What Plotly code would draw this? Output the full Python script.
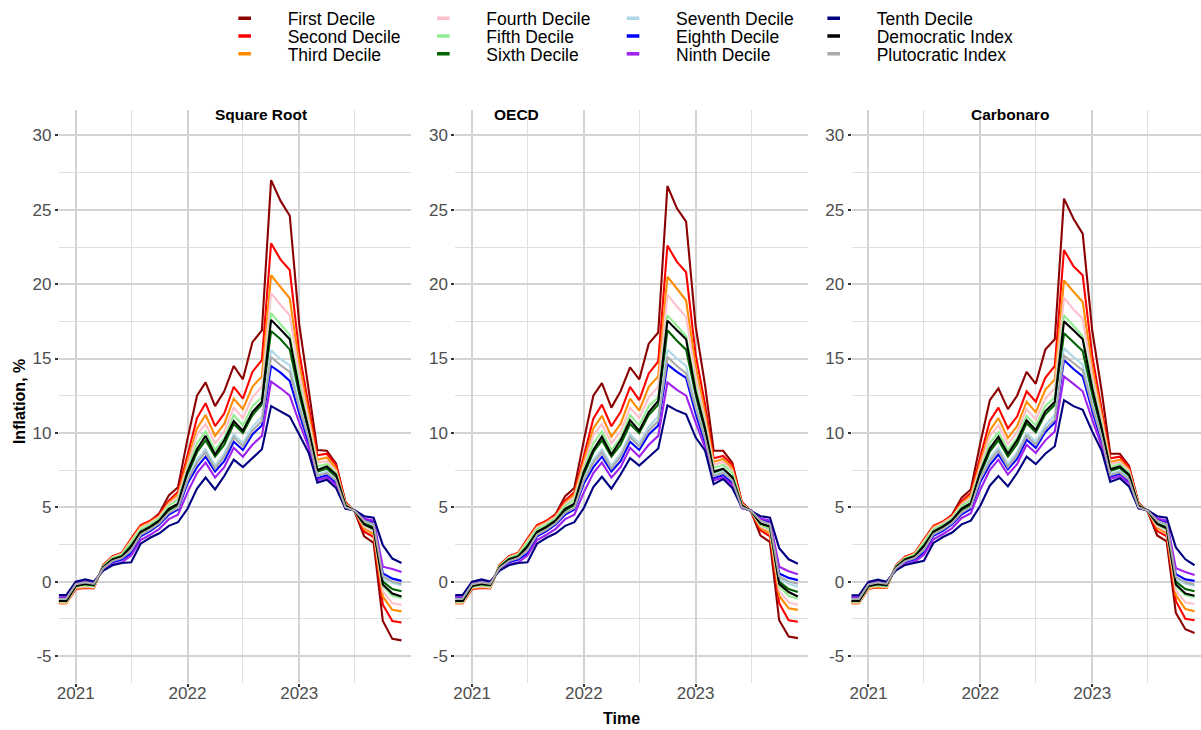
import pandas as pd
import plotly.graph_objects as go

# ---- monthly observation dates (Nov 2020 .. Dec 2023) ----
months = pd.date_range("2020-11-01", "2023-12-01", freq="MS").strftime("%Y-%m-%d").tolist()

series_names = ["First Decile", "Second Decile", "Third Decile", "Fourth Decile",
                "Fifth Decile", "Sixth Decile", "Seventh Decile", "Eighth Decile",
                "Ninth Decile", "Tenth Decile", "Democratic Index", "Plutocratic Index"]
series_colors = ["#8B0000", "#FF0000", "#FF8C00", "#FFC0CB", "#90EE90", "#006400",
                 "#ADD8E6", "#0000FF", "#A020F0", "#000080", "#000000", "#A9A9A9"]
panel_titles = ["Square Root", "OECD", "Carbonaro"]

# ---- Square Root equivalence scale ----
sqrt_d1 = [-1.40, -1.40, -0.45, -0.35, -0.40, 1.10, 1.70, 1.90, 2.85, 3.75, 4.05, 4.60, 5.80, 6.35, 9.60, 12.50, 13.40, 11.80, 12.80, 14.50, 13.60, 16.10, 16.90, 27.00, 25.60, 24.60, 17.30, 12.80, 8.85, 8.80, 7.95, 5.35, 4.70, 3.05, 2.60, -2.65, -3.85, -3.95]
sqrt_d2 = [-1.45, -1.45, -0.50, -0.42, -0.45, 1.12, 1.70, 1.95, 2.90, 3.80, 4.10, 4.50, 5.45, 6.05, 8.50, 11.00, 12.00, 10.45, 11.30, 13.10, 12.30, 14.10, 14.90, 22.75, 21.65, 20.95, 15.40, 11.80, 8.50, 8.60, 7.85, 5.30, 4.72, 3.35, 3.00, -1.55, -2.65, -2.75]
sqrt_d3 = [-1.45, -1.45, -0.45, -0.38, -0.42, 1.08, 1.65, 1.90, 2.80, 3.70, 4.00, 4.40, 5.30, 5.85, 8.10, 10.30, 11.20, 9.80, 10.60, 12.30, 11.60, 13.10, 13.80, 20.60, 19.80, 19.05, 14.60, 11.30, 8.20, 8.35, 7.60, 5.25, 4.74, 3.55, 3.20, -1.00, -1.90, -2.00]
sqrt_d4 = [-1.40, -1.40, -0.40, -0.32, -0.38, 1.05, 1.62, 1.85, 2.72, 3.62, 3.95, 4.35, 5.20, 5.70, 7.80, 9.90, 10.60, 9.30, 10.10, 11.70, 11.00, 12.40, 13.10, 19.40, 18.60, 17.90, 14.00, 10.90, 8.00, 8.10, 7.45, 5.20, 4.75, 3.70, 3.35, -0.65, -1.45, -1.55]
sqrt_d5 = [-1.35, -1.35, -0.35, -0.25, -0.32, 1.02, 1.58, 1.80, 2.62, 3.52, 3.85, 4.25, 5.10, 5.50, 7.55, 9.30, 10.10, 8.85, 9.65, 11.20, 10.50, 11.80, 12.40, 18.05, 17.30, 16.60, 13.30, 10.50, 7.75, 7.90, 7.30, 5.15, 4.75, 3.80, 3.50, -0.30, -0.95, -1.10]
sqrt_d6 = [-1.30, -1.30, -0.28, -0.18, -0.25, 0.98, 1.50, 1.72, 2.42, 3.30, 3.65, 4.05, 4.80, 5.15, 7.20, 8.70, 9.50, 8.40, 9.20, 10.60, 10.00, 11.20, 11.90, 16.85, 16.30, 15.60, 12.60, 10.00, 7.40, 7.60, 7.05, 5.10, 4.76, 3.95, 3.65, 0.00, -0.50, -0.65]
sqrt_d7 = [-1.20, -1.20, -0.22, -0.10, -0.18, 0.92, 1.42, 1.62, 2.20, 3.10, 3.45, 3.85, 4.55, 4.90, 6.90, 8.20, 8.90, 7.80, 8.60, 9.90, 9.30, 10.40, 11.10, 15.55, 14.95, 14.55, 11.90, 9.70, 7.20, 7.40, 6.90, 5.05, 4.77, 4.05, 3.80, 0.20, -0.10, -0.25]
sqrt_d8 = [-1.05, -1.05, -0.10, 0.02, -0.08, 0.85, 1.30, 1.48, 1.90, 3.05, 3.40, 3.85, 4.50, 4.85, 6.60, 7.70, 8.40, 7.40, 8.10, 9.40, 8.85, 9.90, 10.50, 14.50, 14.05, 13.50, 11.30, 9.30, 6.95, 7.15, 6.65, 4.95, 4.78, 4.20, 4.00, 0.55, 0.20, 0.05]
sqrt_d9 = [-1.00, -1.00, -0.05, 0.08, -0.03, 0.80, 1.15, 1.30, 1.75, 2.80, 3.15, 3.55, 4.20, 4.50, 6.00, 7.30, 8.00, 7.00, 7.70, 9.00, 8.40, 9.20, 9.80, 13.45, 13.00, 12.50, 10.70, 9.00, 6.80, 7.00, 6.50, 4.95, 4.79, 4.25, 4.10, 1.00, 0.85, 0.65]
sqrt_d10 = [-0.90, -0.90, 0.00, 0.15, 0.00, 0.75, 1.10, 1.25, 1.30, 2.55, 2.95, 3.25, 3.75, 4.00, 4.90, 6.25, 7.00, 6.20, 7.10, 8.20, 7.70, 8.30, 8.90, 11.80, 11.45, 11.10, 9.90, 8.65, 6.65, 6.85, 6.30, 4.90, 4.80, 4.40, 4.30, 2.45, 1.55, 1.25]
sqrt_dem = [-1.30, -1.30, -0.30, -0.15, -0.22, 0.95, 1.48, 1.68, 2.35, 3.35, 3.70, 4.12, 4.90, 5.25, 7.40, 8.90, 9.80, 8.55, 9.50, 10.80, 10.15, 11.40, 12.10, 17.60, 16.95, 16.30, 12.90, 10.20, 7.50, 7.75, 7.20, 5.10, 4.76, 3.85, 3.55, -0.20, -0.80, -1.00]
sqrt_plu = [-1.15, -1.15, -0.18, -0.05, -0.15, 0.90, 1.38, 1.58, 2.10, 3.15, 3.50, 3.92, 4.62, 4.95, 6.80, 8.00, 8.70, 7.60, 8.40, 9.70, 9.10, 10.15, 10.80, 15.10, 14.55, 14.10, 11.70, 9.60, 7.10, 7.30, 6.80, 5.00, 4.77, 4.10, 3.85, 0.35, 0.00, -0.15]

# ---- OECD equivalence scale ----
oecd_d1 = [-1.40, -1.40, -0.45, -0.35, -0.40, 1.10, 1.70, 1.90, 2.85, 3.75, 4.05, 4.55, 5.75, 6.30, 9.50, 12.50, 13.35, 11.70, 12.80, 14.40, 13.60, 16.00, 16.75, 26.60, 25.10, 24.20, 17.20, 13.20, 8.80, 8.80, 8.00, 5.35, 4.72, 3.10, 2.65, -2.60, -3.70, -3.80]
oecd_d2 = [-1.45, -1.45, -0.50, -0.42, -0.45, 1.12, 1.70, 1.95, 2.90, 3.80, 4.10, 4.50, 5.45, 6.00, 8.45, 10.95, 11.90, 10.45, 11.40, 13.10, 12.20, 14.00, 14.80, 22.60, 21.50, 20.80, 15.30, 11.90, 8.30, 8.45, 7.85, 5.30, 4.72, 3.45, 3.05, -1.45, -2.60, -2.70]
oecd_d3 = [-1.45, -1.45, -0.45, -0.38, -0.42, 1.08, 1.65, 1.90, 2.80, 3.70, 4.00, 4.40, 5.30, 5.85, 8.10, 10.30, 11.15, 9.75, 10.60, 12.30, 11.50, 13.10, 13.80, 20.50, 19.70, 18.90, 14.50, 11.30, 8.05, 8.25, 7.60, 5.25, 4.74, 3.60, 3.25, -0.95, -1.80, -1.90]
oecd_d4 = [-1.40, -1.40, -0.40, -0.32, -0.38, 1.05, 1.62, 1.85, 2.72, 3.62, 3.95, 4.35, 5.20, 5.70, 7.80, 9.85, 10.60, 9.30, 10.10, 11.70, 11.00, 12.40, 13.10, 19.30, 18.50, 17.80, 13.90, 10.90, 7.85, 8.05, 7.45, 5.20, 4.75, 3.72, 3.40, -0.60, -1.40, -1.55]
oecd_d5 = [-1.35, -1.35, -0.35, -0.25, -0.32, 1.02, 1.58, 1.80, 2.62, 3.52, 3.85, 4.25, 5.10, 5.50, 7.55, 9.30, 10.10, 8.85, 9.65, 11.20, 10.50, 11.80, 12.40, 17.90, 17.20, 16.50, 13.20, 10.50, 7.65, 7.85, 7.30, 5.15, 4.75, 3.82, 3.52, -0.30, -0.95, -1.15]
oecd_d6 = [-1.30, -1.30, -0.28, -0.18, -0.25, 0.98, 1.50, 1.72, 2.42, 3.30, 3.65, 4.05, 4.80, 5.15, 7.20, 8.70, 9.50, 8.40, 9.20, 10.60, 10.00, 11.20, 11.90, 16.90, 16.20, 15.60, 12.60, 10.00, 7.35, 7.55, 7.05, 5.10, 4.76, 3.95, 3.68, 0.00, -0.50, -0.70]
oecd_d7 = [-1.20, -1.20, -0.22, -0.10, -0.18, 0.92, 1.42, 1.62, 2.20, 3.10, 3.45, 3.85, 4.55, 4.90, 6.90, 8.20, 8.90, 7.80, 8.60, 9.90, 9.30, 10.40, 11.10, 15.60, 15.00, 14.50, 11.90, 9.70, 7.15, 7.40, 6.90, 5.05, 4.77, 4.05, 3.80, 0.20, -0.15, -0.35]
oecd_d8 = [-1.05, -1.05, -0.10, 0.02, -0.08, 0.85, 1.30, 1.48, 1.90, 3.05, 3.40, 3.85, 4.50, 4.85, 6.60, 7.70, 8.40, 7.40, 8.10, 9.40, 8.85, 9.90, 10.50, 14.60, 14.10, 13.70, 11.30, 9.30, 6.95, 7.15, 6.65, 4.95, 4.78, 4.20, 4.00, 0.55, 0.25, 0.10]
oecd_d9 = [-1.00, -1.00, -0.05, 0.08, -0.03, 0.80, 1.15, 1.30, 1.75, 2.80, 3.15, 3.55, 4.20, 4.50, 6.00, 7.30, 8.00, 7.00, 7.70, 9.00, 8.40, 9.20, 9.80, 13.40, 12.90, 12.50, 10.70, 9.00, 6.80, 7.00, 6.50, 4.95, 4.79, 4.25, 4.10, 1.00, 0.70, 0.50]
oecd_d10 = [-0.90, -0.90, 0.00, 0.15, 0.00, 0.75, 1.10, 1.25, 1.30, 2.55, 2.95, 3.25, 3.75, 4.00, 4.95, 6.35, 7.05, 6.25, 7.20, 8.30, 7.80, 8.40, 8.95, 11.85, 11.50, 11.25, 9.70, 8.80, 6.55, 6.90, 6.30, 5.00, 4.75, 4.40, 4.30, 2.25, 1.50, 1.20]
oecd_dem = [-1.30, -1.30, -0.30, -0.15, -0.22, 0.95, 1.48, 1.68, 2.35, 3.35, 3.70, 4.12, 4.90, 5.25, 7.40, 8.85, 9.75, 8.55, 9.50, 10.85, 10.15, 11.40, 12.15, 17.55, 16.90, 16.30, 12.80, 10.30, 7.40, 7.60, 7.00, 5.10, 4.76, 3.90, 3.70, -0.15, -0.70, -1.00]
oecd_plu = [-1.15, -1.15, -0.18, -0.05, -0.15, 0.90, 1.38, 1.58, 2.10, 3.15, 3.50, 3.92, 4.62, 4.95, 6.80, 8.00, 8.70, 7.60, 8.40, 9.70, 9.10, 10.15, 10.80, 15.10, 14.50, 14.00, 11.70, 9.60, 7.10, 7.30, 6.80, 5.00, 4.77, 4.10, 3.85, 0.35, 0.00, -0.15]

# ---- Carbonaro equivalence scale ----
carb_d1 = [-1.40, -1.40, -0.42, -0.32, -0.38, 1.08, 1.68, 1.88, 2.80, 3.70, 4.00, 4.50, 5.65, 6.20, 9.30, 12.20, 13.00, 11.60, 12.50, 14.10, 13.30, 15.60, 16.30, 25.75, 24.40, 23.40, 16.90, 12.80, 8.60, 8.60, 7.80, 5.30, 4.70, 3.10, 2.70, -2.10, -3.20, -3.45]
carb_d2 = [-1.45, -1.45, -0.48, -0.40, -0.43, 1.10, 1.68, 1.92, 2.85, 3.75, 4.05, 4.45, 5.40, 5.95, 8.40, 10.80, 11.70, 10.30, 11.10, 12.80, 12.10, 13.70, 14.50, 22.30, 21.20, 20.60, 15.20, 11.70, 8.30, 8.40, 7.70, 5.28, 4.72, 3.40, 3.05, -1.30, -2.50, -2.60]
carb_d3 = [-1.45, -1.45, -0.44, -0.36, -0.40, 1.06, 1.63, 1.88, 2.76, 3.66, 3.97, 4.37, 5.25, 5.80, 8.00, 10.15, 11.00, 9.65, 10.45, 12.10, 11.40, 12.90, 13.60, 20.25, 19.50, 18.80, 14.40, 11.20, 8.05, 8.20, 7.55, 5.24, 4.74, 3.60, 3.25, -0.90, -1.85, -2.00]
carb_d4 = [-1.40, -1.40, -0.40, -0.30, -0.37, 1.04, 1.60, 1.84, 2.70, 3.60, 3.93, 4.33, 5.17, 5.65, 7.75, 9.80, 10.50, 9.25, 10.05, 11.60, 10.90, 12.30, 13.00, 19.10, 18.30, 17.70, 13.90, 10.90, 7.90, 8.05, 7.45, 5.20, 4.75, 3.72, 3.38, -0.60, -1.40, -1.50]
carb_d5 = [-1.35, -1.35, -0.35, -0.24, -0.31, 1.01, 1.57, 1.79, 2.61, 3.51, 3.84, 4.24, 5.08, 5.48, 7.50, 9.30, 10.05, 8.85, 9.65, 11.15, 10.50, 11.80, 12.40, 17.90, 17.20, 16.50, 13.30, 10.50, 7.70, 7.90, 7.30, 5.15, 4.75, 3.82, 3.50, -0.30, -0.90, -1.05]
carb_d6 = [-1.30, -1.30, -0.29, -0.18, -0.25, 0.98, 1.50, 1.72, 2.44, 3.32, 3.66, 4.06, 4.82, 5.17, 7.20, 8.75, 9.50, 8.40, 9.25, 10.65, 10.05, 11.25, 11.90, 16.70, 16.10, 15.50, 12.60, 10.05, 7.45, 7.65, 7.10, 5.10, 4.76, 3.95, 3.66, 0.00, -0.50, -0.65]
carb_d7 = [-1.22, -1.22, -0.23, -0.11, -0.19, 0.93, 1.43, 1.63, 2.25, 3.15, 3.48, 3.88, 4.60, 4.95, 6.95, 8.30, 9.00, 7.90, 8.70, 10.00, 9.40, 10.50, 11.20, 15.70, 15.10, 14.60, 12.00, 9.75, 7.25, 7.45, 6.95, 5.05, 4.77, 4.05, 3.80, 0.15, -0.15, -0.30]
carb_d8 = [-1.08, -1.08, -0.12, 0.00, -0.10, 0.86, 1.32, 1.50, 1.98, 3.08, 3.42, 3.86, 4.52, 4.88, 6.70, 7.85, 8.55, 7.55, 8.25, 9.55, 9.00, 10.05, 10.70, 14.90, 14.30, 13.80, 11.50, 9.40, 7.05, 7.25, 6.75, 4.98, 4.78, 4.18, 3.98, 0.50, 0.15, 0.05]
carb_d9 = [-1.02, -1.02, -0.07, 0.06, -0.04, 0.81, 1.18, 1.34, 1.80, 2.85, 3.20, 3.60, 4.28, 4.60, 6.20, 7.50, 8.20, 7.20, 7.90, 9.20, 8.65, 9.50, 10.10, 13.80, 13.30, 12.80, 10.90, 9.10, 6.90, 7.10, 6.60, 4.96, 4.79, 4.25, 4.10, 0.90, 0.65, 0.45]
carb_d10 = [-0.92, -0.92, -0.02, 0.13, -0.01, 0.76, 1.12, 1.28, 1.40, 2.60, 3.00, 3.30, 3.85, 4.10, 5.10, 6.45, 7.10, 6.40, 7.30, 8.40, 7.90, 8.60, 9.10, 12.20, 11.80, 11.55, 10.10, 8.80, 6.70, 6.95, 6.40, 4.92, 4.80, 4.40, 4.30, 2.30, 1.50, 1.10]
carb_dem = [-1.30, -1.30, -0.30, -0.16, -0.23, 0.96, 1.48, 1.69, 2.38, 3.36, 3.71, 4.13, 4.91, 5.27, 7.40, 8.95, 9.75, 8.60, 9.50, 10.85, 10.20, 11.45, 12.10, 17.50, 16.90, 16.30, 13.00, 10.30, 7.55, 7.75, 7.20, 5.10, 4.76, 3.88, 3.58, -0.20, -0.80, -0.95]
carb_plu = [-1.16, -1.16, -0.19, -0.06, -0.15, 0.90, 1.38, 1.58, 2.14, 3.18, 3.52, 3.94, 4.65, 5.00, 6.90, 8.10, 8.80, 7.70, 8.50, 9.80, 9.20, 10.25, 10.90, 15.20, 14.70, 14.20, 11.80, 9.65, 7.15, 7.35, 6.85, 5.00, 4.77, 4.10, 3.85, 0.30, -0.05, -0.20]

panel_series = [
    [sqrt_d1, sqrt_d2, sqrt_d3, sqrt_d4, sqrt_d5, sqrt_d6, sqrt_d7, sqrt_d8, sqrt_d9, sqrt_d10, sqrt_dem, sqrt_plu],
    [oecd_d1, oecd_d2, oecd_d3, oecd_d4, oecd_d5, oecd_d6, oecd_d7, oecd_d8, oecd_d9, oecd_d10, oecd_dem, oecd_plu],
    [carb_d1, carb_d2, carb_d3, carb_d4, carb_d5, carb_d6, carb_d7, carb_d8, carb_d9, carb_d10, carb_dem, carb_plu],
]

y_ticks = [-5, 0, 5, 10, 15, 20, 25, 30]
y_minor = [-2.5, 2.5, 7.5, 12.5, 17.5, 22.5, 27.5]
x_ticks = ["2021-01-01", "2022-01-01", "2023-01-01"]
x_ticklabels = ["2021", "2022", "2023"]
x_minor = ["2021-07-01", "2022-07-01", "2023-07-01", "2024-01-01"]

# ---- page geometry (pixels) ----
W, H = 1201, 730
panel_px = [(57, 410), (454, 807), (851, 1201)]
panel_top, panel_bottom = 102, 682
x_ranges = [["2020-11-07", "2024-01-02"], ["2020-11-07", "2024-01-02"], ["2020-11-07", "2023-12-22"]]
y_range = [-6.79, 31.73]

FONT = "Liberation Sans, Arial, sans-serif"
TICK_GREY = "#4D4D4D"
GRID_MAJOR = "#D3D3D3"
GRID_MINOR = "#E0E0E0"

fig = go.Figure()

for p in range(3):
    ax = "" if p == 0 else str(p + 1)
    for name, color, values in zip(series_names, series_colors, panel_series[p]):
        fig.add_trace(go.Scatter(
            x=months, y=values, mode="lines", name=name,
            line=dict(color=color, width=2.1),
            xaxis="x" + ax, yaxis="y" + ax, showlegend=False,
        ))

# legend keys: one small legend per entry, laid out in a 4 x 3 grid (column-major)
legend_col_text_x = [288, 487, 677, 878]
legend_row_y = [9.5, 27.5, 45.5]
for k, (name, color) in enumerate(zip(series_names, series_colors)):
    lg = "legend" if k == 0 else "legend" + str(k + 1)
    fig.add_trace(go.Scatter(
        x=[None], y=[None], mode="markers", name=name,
        marker=dict(symbol="line-ew", size=9, color=color,
                    line=dict(color=color, width=3.5)),
        legend=lg, showlegend=True, hoverinfo="skip",
    ))

layout = dict(
    width=W, height=H,
    margin=dict(l=0, r=0, t=0, b=0),
    paper_bgcolor="white", plot_bgcolor="white",
    font=dict(family=FONT, color="#000000"),
    showlegend=True,
)

for p in range(3):
    ax = "" if p == 0 else str(p + 1)
    x0, x1 = panel_px[p]
    layout["xaxis" + ax] = dict(
        domain=[x0 / W, x1 / W], range=x_ranges[p], type="date",
        anchor="y" + ax,
        tickmode="array", tickvals=x_ticks, ticktext=x_ticklabels,
        ticks="outside", ticklen=3, tickwidth=2, tickcolor="#333333",
        ticklabelstandoff=-8,
        tickfont=dict(family=FONT, size=17, color=TICK_GREY),
        showgrid=True, gridcolor=GRID_MAJOR, gridwidth=1.8,
        minor=dict(tickmode="array", tickvals=x_minor, showgrid=True,
                   gridcolor=GRID_MINOR, gridwidth=1.4, ticks=""),
        showline=False, zeroline=False, fixedrange=True,
    )
    layout["yaxis" + ax] = dict(
        domain=[1 - panel_bottom / H, 1 - panel_top / H], range=y_range,
        anchor="x" + ax,
        tickmode="array", tickvals=y_ticks, ticktext=[str(v) for v in y_ticks],
        ticks="outside", ticklen=3, tickwidth=2, tickcolor="#333333",
        tickfont=dict(family=FONT, size=17, color=TICK_GREY),
        showgrid=True, gridcolor=GRID_MAJOR, gridwidth=1.8,
        minor=dict(tickmode="array", tickvals=y_minor, showgrid=True,
                   gridcolor=GRID_MINOR, gridwidth=1.4, ticks=""),
        showline=False, zeroline=False, fixedrange=True,
    )

for k in range(len(series_names)):
    lg = "legend" if k == 0 else "legend" + str(k + 1)
    col, row = k // 3, k % 3
    layout[lg] = dict(
        orientation="v", x=(legend_col_text_x[col] - 88) / W, xanchor="left",
        y=1 - legend_row_y[row] / H, yanchor="middle", itemwidth=76,
        font=dict(family=FONT, size=17.5, color="#000000"),
        bgcolor="rgba(0,0,0,0)", borderwidth=0, tracegroupgap=0,
    )

annotations = []
strip_cx = [259, 515, 1010]
for p in range(3):
    annotations.append(dict(
        text="<b>" + panel_titles[p] + "</b>", x=strip_cx[p] / W, y=1 - 107 / H,
        xref="paper", yref="paper", showarrow=False, xanchor="center", yanchor="middle",
        font=dict(family=FONT, size=15.5, color="#000000"),
    ))
annotations.append(dict(
    text="<b>Inflation, %</b>", x=17 / W, y=1 - 397 / H, xref="paper", yref="paper",
    showarrow=False, textangle=-90, xanchor="center", yanchor="middle",
    font=dict(family=FONT, size=16, color="#000000"),
))
annotations.append(dict(
    text="<b>Time</b>", x=621 / W, y=1 - 718 / H, xref="paper", yref="paper",
    showarrow=False, xanchor="center", yanchor="middle",
    font=dict(family=FONT, size=16, color="#000000"),
))
layout["annotations"] = annotations

fig.update_layout(**layout)
fig.write_html("out.html")
